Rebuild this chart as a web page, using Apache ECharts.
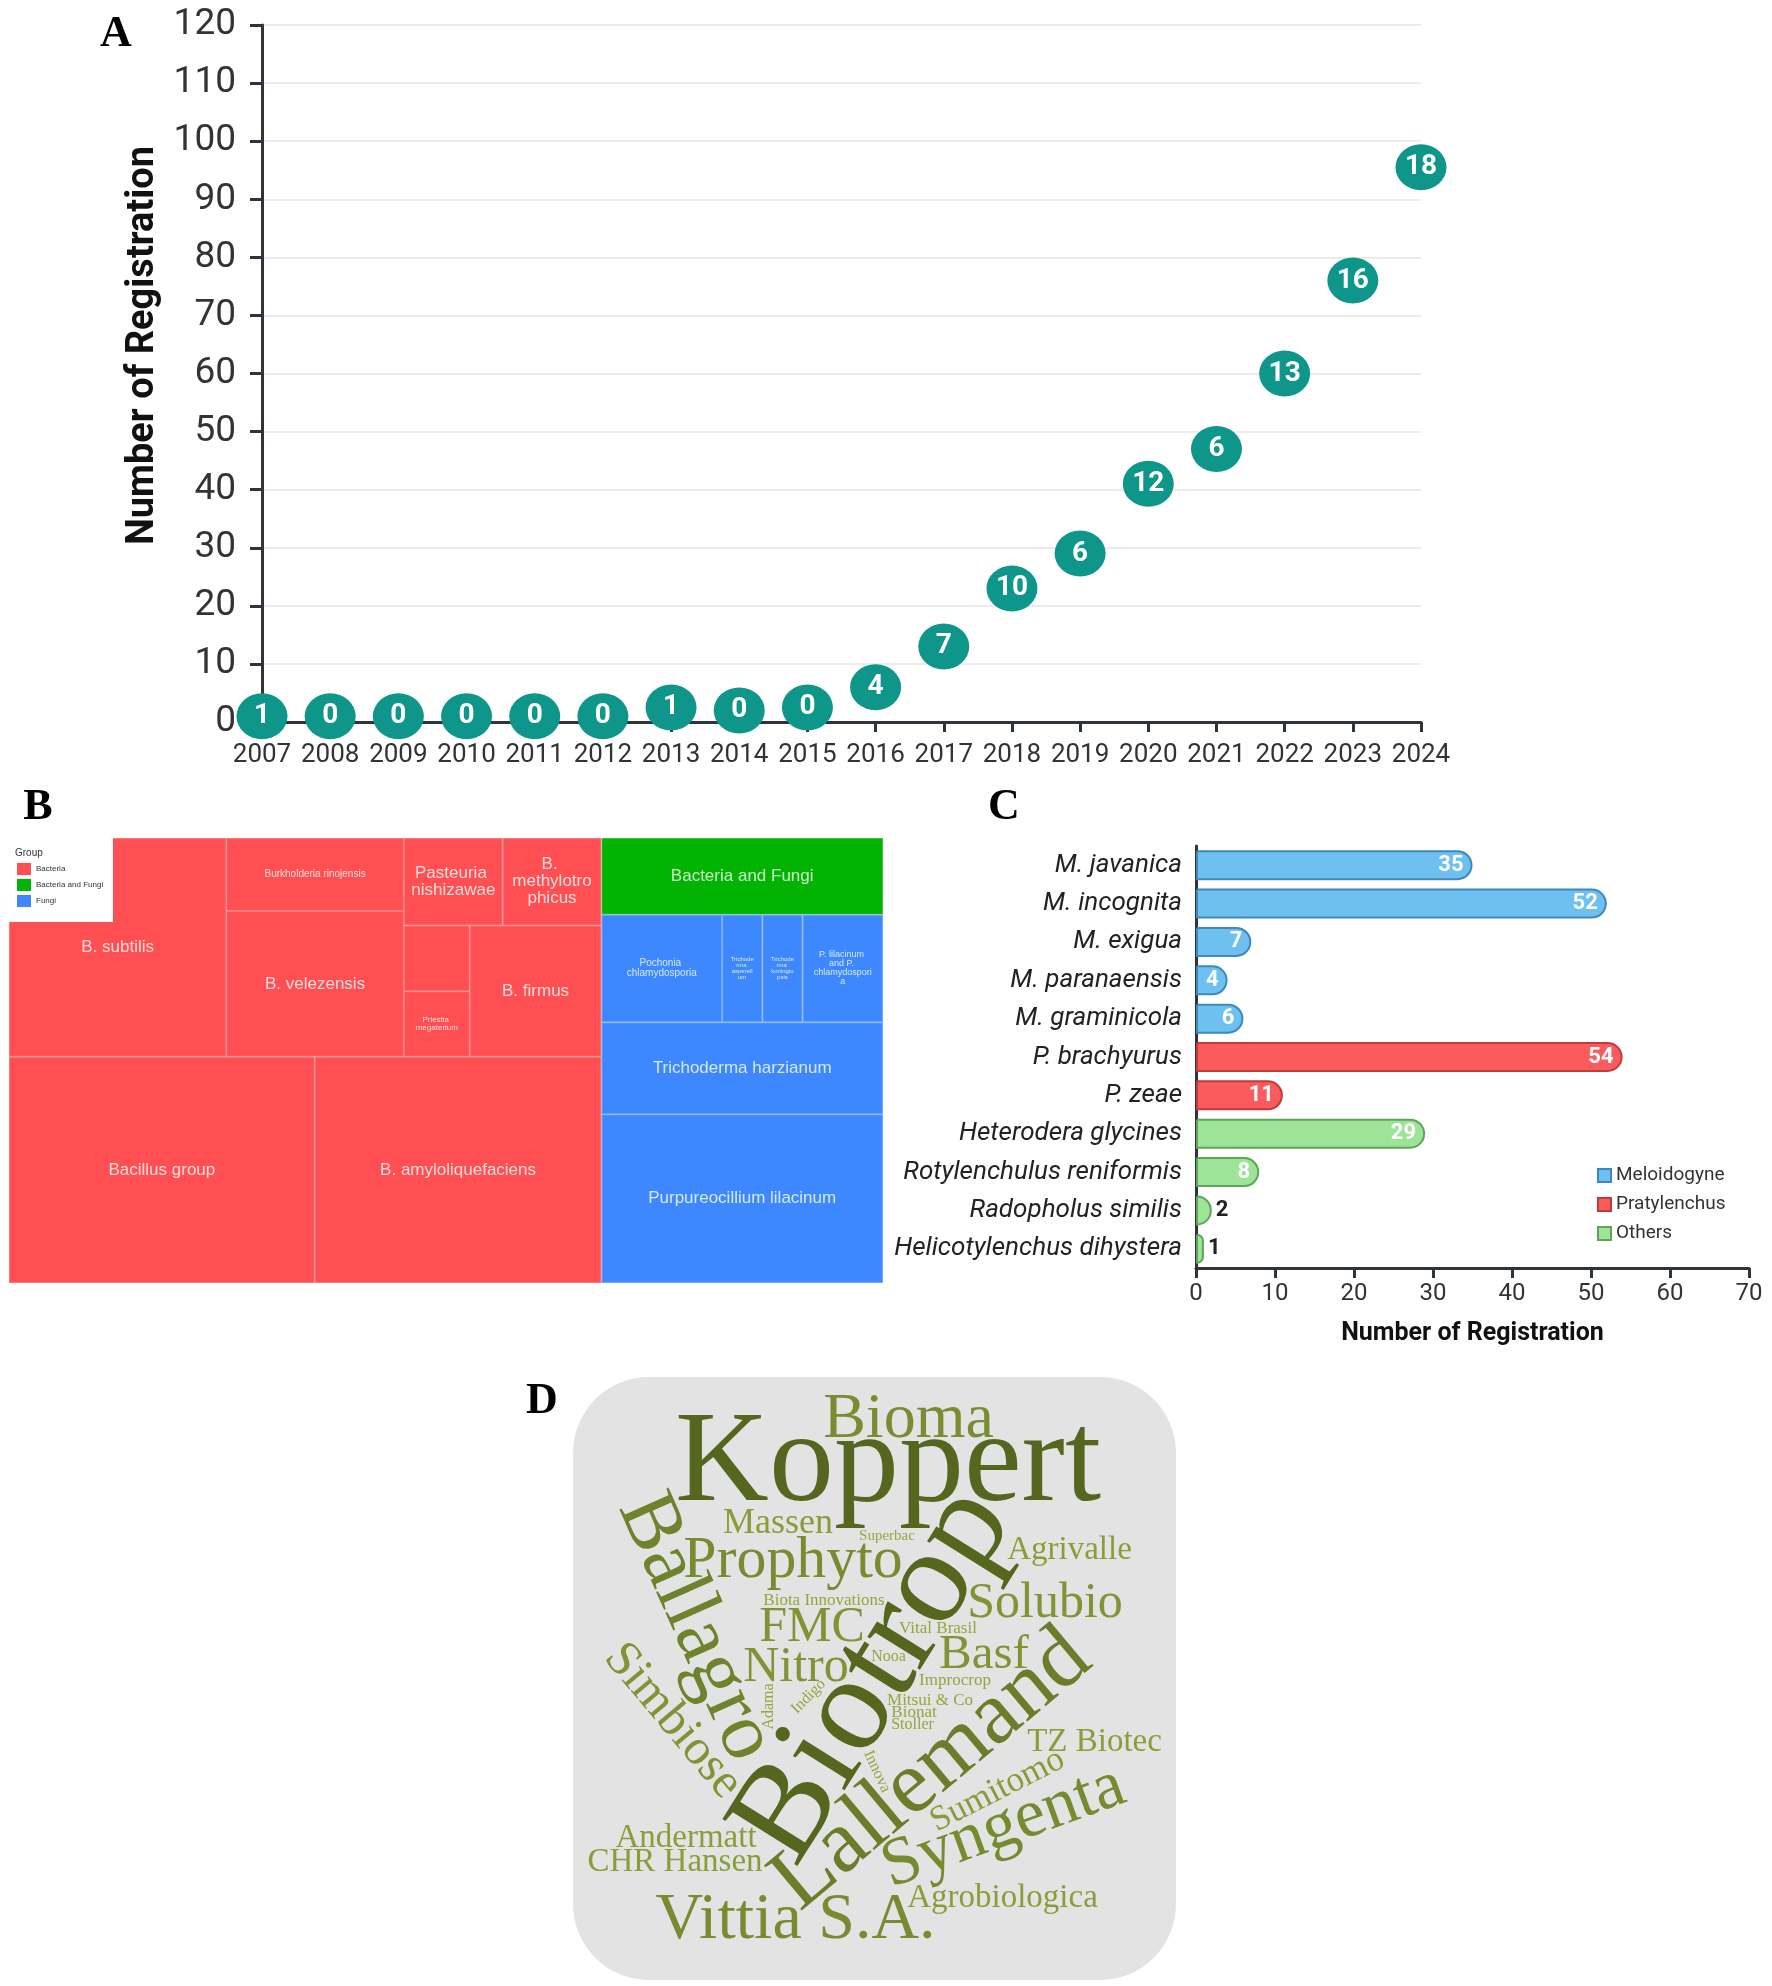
<!DOCTYPE html>
<html>
<head>
<meta charset="utf-8">
<script src="https://cdn.jsdelivr.net/npm/echarts@6/dist/echarts.min.js"></script>
<style>
  html, body { margin: 0; background: #fff; }
  #chart { width: 1772px; height: 1986px; }
</style>
</head>
<body>
<div id="chart"></div>
<script>
// ---- A: registrations per year (bubble text) and running total (bubble height)
const years = ['2007', '2008', '2009', '2010', '2011', '2012', '2013', '2014', '2015',
  '2016', '2017', '2018', '2019', '2020', '2021', '2022', '2023', '2024'];
const yearCount = [1, 0, 0, 0, 0, 0, 1, 0, 0, 4, 7, 10, 6, 12, 6, 13, 16, 18];
const yearTotal = [1, 1, 1, 1, 1, 1, 2.5, 2, 2.5, 6, 13, 23, 29, 41, 47, 60, 76, 95.5];

// ---- B: organisms (treemap)
const bacteriaUpper = ['B. subtilis', 'Burkholderia rinojensis', 'B. velezensis', 'Pasteuria nishizawae',
  'B. methylotrophicus', '', 'Priestia megaterium', 'B. firmus'];
const bacteriaUpperValues = [11, 3, 6, 2, 2, 1, 1, 4];
const bacteriaLower = ['Bacillus group', 'B. amyloliquefaciens'];
const bacteriaLowerValues = [16, 15];
const mixedValue = 5;
const fungi = ['Pochonia chlamydosporia', 'Trichoderma asperellum', 'Trichoderma koningiopsis',
  'P. lilacinum and P. chlamydosporia', 'Trichoderma harzianum', 'Purpureocillium lilacinum'];
const fungiValues = [3, 1, 1, 2, 6, 11];

// ---- C: target nematodes
const nematodes = ['M. javanica', 'M. incognita', 'M. exigua', 'M. paranaensis', 'M. graminicola',
  'P. brachyurus', 'P. zeae', 'Heterodera glycines', 'Rotylenchulus reniformis',
  'Radopholus similis', 'Helicotylenchus dihystera'];
const nematodeCounts = [35, 52, 7, 4, 6, 54, 11, 29, 8, 2, 1];
const nematodeGroup = ['Meloidogyne', 'Meloidogyne', 'Meloidogyne', 'Meloidogyne', 'Meloidogyne',
  'Pratylenchus', 'Pratylenchus', 'Others', 'Others', 'Others', 'Others'];
const groups = ['Meloidogyne', 'Pratylenchus', 'Others'];

// ---- D: companies (word cloud weights)
const companies = ['Biotrop', 'Koppert', 'Lallemand', 'Ballagro', 'Syngenta', 'Prophyto', 'Bioma',
  'Vittia S.A.', 'Solubio', 'FMC', 'Nitro', 'Basf', 'Simbiose', 'Massen', 'Sumitomo', 'TZ Biotec',
  'Agrivalle', 'Andermatt', 'Agrobiologica', 'CHR Hansen', 'Mitsui & Co', 'Bionat', 'Improcrop',
  'Vital Brasil', 'Biota Innovations', 'Stoller', 'Nooa', 'Indigo', 'Innova', 'Adama', 'Superbac'];
const companyWeight = [13.5, 13, 9, 8.2, 6.8, 6.5, 6.4, 6.6, 5, 5, 5, 4.9, 5, 3.6, 3.5, 3.3,
  3.3, 3.3, 3.3, 3.3, 1.7, 1.7, 1.7, 1.7, 1.7, 1.6, 1.6, 1.6, 1.6, 1.6, 1.5];

// ---- styles
const barColor = {
  Meloidogyne: ['#6dc0f0', '#3d88bd'],
  Pratylenchus: ['#fa5b5d', '#c23a3c'],
  Others: ['#9de398', '#5ea55a']
};
const treeColor = {
  Bacteria: ['#ff4f53', '#f87c7e'],
  'Bacteria and Fungi': ['#02b302', '#3cc43c'],
  Fungi: ['#3d88fe', '#74a9fd']
};
const treeLabelSize = {
  'Burkholderia rinojensis': 10, 'Priestia megaterium': 8, 'Pochonia chlamydosporia': 10,
  'Trichoderma asperellum': 6, 'Trichoderma koningiopsis': 6, 'P. lilacinum and P. chlamydosporia': 9
};
const wordAngle = {
  Biotrop: 58, Ballagro: -66, Lallemand: 40, Syngenta: 20, Simbiose: -50,
  Sumitomo: 27, Indigo: 45, Innova: -65, Adama: 90
};
const cloudBox = { x: 573, y: 1377, w: 603, h: 603, r: 76 };

function leaf(name, value, group) {
  return {
    name, value,
    itemStyle: { color: treeColor[group][0], borderColor: treeColor[group][1], borderWidth: 1 },
    label: { fontSize: treeLabelSize[name] || 17 }
  };
}
const treeData = [
  { name: 'Bacteria', itemStyle: { color: treeColor.Bacteria[0] }, children: [
    { name: 'Bacteria (a)', children: bacteriaUpper.map((n, i) => leaf(n, bacteriaUpperValues[i], 'Bacteria')) },
    { name: 'Bacteria (b)', children: bacteriaLower.map((n, i) => leaf(n, bacteriaLowerValues[i], 'Bacteria')) }
  ] },
  leaf('Bacteria and Fungi', mixedValue, 'Bacteria and Fungi'),
  { name: 'Fungi', itemStyle: { color: treeColor.Fungi[0] },
    children: fungi.map((n, i) => leaf(n, fungiValues[i], 'Fungi')) }
];

// word cloud: greedy spiral placement on a pixel mask
function wordColor(w) {
  const t = Math.min(1, Math.max(0, (w - 1.5) / 11.5));
  const a = [0x93, 0xa8, 0x3e], b = [0x55, 0x66, 0x1f];
  return 'rgb(' + a.map((v, k) => Math.round(v + (b[k] - v) * t)).join(',') + ')';
}
function layoutCloud(box) {
  const cell = 4;
  const gw = Math.floor(box.w / cell), gh = Math.floor(box.h / cell);
  const grid = new Uint8Array(gw * gh);
  const inset = 12;
  for (let gy = 0; gy < gh; gy++) {
    for (let gx = 0; gx < gw; gx++) {
      const px = gx * cell + cell / 2, py = gy * cell + cell / 2;
      const qx = Math.max(Math.abs(px - box.w / 2) - (box.w / 2 - box.r), 0);
      const qy = Math.max(Math.abs(py - box.h / 2) - (box.h / 2 - box.r), 0);
      if (Math.hypot(qx, qy) > box.r - inset) grid[gy * gw + gx] = 1;
    }
  }
  const cvs = document.createElement('canvas');
  const ctx = cvs.getContext('2d', { willReadFrequently: true });
  const order = companies.map((_, i) => i).sort((a, b) => companyWeight[b] - companyWeight[a] || a - b);
  const out = [];
  order.forEach(i => {
    const text = companies[i];
    const ang = (wordAngle[text] || 0) * Math.PI / 180;
    let size = companyWeight[i] * 10;
    for (let attempt = 0; attempt < 8; attempt++, size *= 0.92) {
      const font = size.toFixed(1) + 'px "Liberation Serif"';
      ctx.setTransform(1, 0, 0, 1, 0, 0);
      ctx.font = font;
      const tw = ctx.measureText(text).width, th = size * 1.15;
      const c = Math.abs(Math.cos(ang)), s = Math.abs(Math.sin(ang));
      const bw = Math.ceil(tw * c + th * s) + 4, bh = Math.ceil(tw * s + th * c) + 4;
      cvs.width = bw; cvs.height = bh;
      ctx.font = font; ctx.textAlign = 'center'; ctx.textBaseline = 'middle'; ctx.fillStyle = '#000';
      ctx.translate(bw / 2, bh / 2); ctx.rotate(-ang); ctx.fillText(text, 0, 0);
      const img = ctx.getImageData(0, 0, bw, bh).data;
      const cw = Math.ceil(bw / cell), ch = Math.ceil(bh / cell);
      const cells = [];
      for (let cy = 0; cy < ch; cy++) {
        for (let cx = 0; cx < cw; cx++) {
          let hit = false;
          for (let y = cy * cell; y < Math.min(bh, cy * cell + cell) && !hit; y++) {
            for (let x = cx * cell; x < Math.min(bw, cx * cell + cell); x++) {
              if (img[(y * bw + x) * 4 + 3] > 40) { hit = true; break; }
            }
          }
          if (hit) cells.push([cx, cy]);
        }
      }
      let spot = null;
      const rMax = Math.max(gw, gh) * 0.72;
      // spiral runs anticlockwise on screen, so the first free ring slot is searched above the centre
      for (let a = 0, r = 0; r < rMax && !spot; a += 1 / (r + 1)) {
        r = 0.32 * a;
        const ox = Math.round(gw / 2 + r * Math.cos(a) - cw / 2);
        const oy = Math.round(gh / 2 - r * Math.sin(a) - ch / 2);
        let ok = true;
        for (let k = 0; k < cells.length; k++) {
          const gx = ox + cells[k][0], gy = oy + cells[k][1];
          if (gx < 0 || gy < 0 || gx >= gw || gy >= gh || grid[gy * gw + gx]) { ok = false; break; }
        }
        if (ok) spot = [ox, oy];
      }
      if (spot) {
        cells.forEach(([cx, cy]) => { grid[(spot[1] + cy) * gw + spot[0] + cx] = 1; });
        out.push({
          type: 'text', z: 50,
          x: box.x + spot[0] * cell + bw / 2,
          y: box.y + spot[1] * cell + bh / 2,
          rotation: ang,
          style: {
            text, font, fill: wordColor(companyWeight[i]),
            align: 'center', verticalAlign: 'middle', textAlign: 'center', textVerticalAlign: 'middle'
          }
        });
        break;
      }
    }
  });
  return out;
}

const panelTag = (t, x, y) => ({
  type: 'text', x, y, z: 100,
  style: { text: t, font: 'bold 44px "Liberation Serif"', fill: '#000',
    align: 'center', verticalAlign: 'middle', textAlign: 'center', textVerticalAlign: 'middle' }
});

const legendItems = ['Bacteria', 'Bacteria and Fungi', 'Fungi'];
const treeLegend = [
  { type: 'rect', x: 9, y: 838, z: 100, shape: { width: 104, height: 84 }, style: { fill: '#fff' } },
  { type: 'text', x: 15, y: 853, z: 101, style: { text: 'Group', font: '10px "Liberation Sans"', fill: '#333',
    verticalAlign: 'middle', textVerticalAlign: 'middle' } }
].concat(...legendItems.map((g, k) => [
  { type: 'rect', x: 17, y: 863 + k * 16, z: 101, shape: { width: 14, height: 12 }, style: { fill: treeColor[g][0] } },
  { type: 'text', x: 36, y: 869 + k * 16, z: 101, style: { text: g, font: '8px "Liberation Sans"', fill: '#333',
    verticalAlign: 'middle', textVerticalAlign: 'middle' } }
]));

const axisDark = '#2f343a';

const option = {
  animation: false,
  backgroundColor: '#fff',
  grid: [
    { left: 262, top: 25, right: 351, bottom: 1264 },
    { left: 1196, top: 846, right: 23, bottom: 718 }
  ],
  xAxis: [
    {
      gridIndex: 0, type: 'category', data: years, boundaryGap: false,
      axisLine: { lineStyle: { color: axisDark, width: 3 } },
      axisTick: { show: true, length: 10, lineStyle: { color: axisDark, width: 3 } },
      axisLabel: { interval: 0, fontSize: 26, color: '#333', margin: 20, fontFamily: 'Roboto' },
      splitLine: { show: false }
    },
    {
      gridIndex: 1, type: 'value', min: 0, max: 70, interval: 10,
      axisLine: { show: true, lineStyle: { color: axisDark, width: 3 } },
      axisTick: { show: true, length: 10, lineStyle: { color: axisDark, width: 3 } },
      axisLabel: { fontSize: 24, color: '#333', margin: 14, fontFamily: 'Roboto' },
      splitLine: { show: false },
      name: 'Number of Registration', nameLocation: 'middle', nameGap: 53,
      nameTextStyle: { fontSize: 25, fontWeight: 'bold', color: '#111', fontFamily: 'Roboto' }
    }
  ],
  yAxis: [
    {
      gridIndex: 0, type: 'value', min: 0, max: 120, interval: 10,
      axisLine: { show: true, lineStyle: { color: axisDark, width: 3 } },
      axisTick: { show: true, length: 12, lineStyle: { color: axisDark, width: 3 } },
      axisLabel: { fontSize: 37, color: '#333', margin: 26, fontFamily: 'Roboto' },
      splitLine: { show: true, lineStyle: { color: '#ebebeb', width: 2 } },
      name: 'Number of Registration', nameLocation: 'middle', nameGap: 92,
      nameTextStyle: { fontSize: 38, fontWeight: 'bold', color: '#111', fontFamily: 'Roboto', padding: [0, 0, 0, 56] }
    },
    {
      gridIndex: 1, type: 'category', data: nematodes, inverse: true,
      axisLine: { show: true, lineStyle: { color: axisDark, width: 3 } },
      axisTick: { show: false },
      axisLabel: { fontSize: 26, fontStyle: 'italic', color: '#222', margin: 14, fontFamily: 'Roboto' },
      splitLine: { show: false }
    }
  ],
  legend: {
    data: groups, orient: 'vertical', left: 1592, top: 1161, itemGap: 10,
    itemWidth: 13, itemHeight: 13, icon: 'rect', selectedMode: false,
    textStyle: { fontSize: 19, color: '#333', fontFamily: 'Roboto' }
  },
  series: [
    {
      type: 'scatter', xAxisIndex: 0, yAxisIndex: 0, data: yearTotal, z: 5,
      symbol: 'circle', symbolSize: [51, 46],
      itemStyle: { color: '#0f968b', opacity: 1 },
      label: {
        show: true, position: 'inside', color: '#fff', fontSize: 28, fontWeight: 'bold', fontFamily: 'Roboto',
        formatter: p => String(yearCount[p.dataIndex])
      }
    },
    ...groups.map(g => ({
      name: g, type: 'bar', xAxisIndex: 1, yAxisIndex: 1, stack: 'nema', barWidth: 30,
      itemStyle: { color: barColor[g][0], borderColor: barColor[g][1], borderWidth: 2, borderRadius: [0, 15, 15, 0] },
      label: { show: true, position: 'insideRight', distance: 9, color: '#fff', fontSize: 22,
        fontWeight: 'bold', fontFamily: 'Roboto' },
      data: nematodeCounts.map((v, i) => nematodeGroup[i] !== g ? null
        : (v <= 2 ? { value: v, label: { position: 'right', distance: 4, color: '#222' } } : v))
    })),
    {
      type: 'treemap', left: 9, top: 838, width: 874, height: 445,
      roam: false, nodeClick: false, sort: false, squareRatio: 1.5,
      breadcrumb: { show: false },
      itemStyle: { borderWidth: 0, gapWidth: 0 },
      upperLabel: { show: false },
      label: { show: true, position: 'inside', color: 'rgba(255,255,255,0.8)', fontSize: 17,
        fontFamily: 'Liberation Sans', overflow: 'break' },
      data: treeData
    }
  ],
  graphic: [
    panelTag('A', 116, 35), panelTag('B', 38, 808), panelTag('C', 1004, 808), panelTag('D', 542, 1402),
    ...treeLegend,
    { type: 'rect', x: cloudBox.x, y: cloudBox.y, z: 40,
      shape: { width: cloudBox.w, height: cloudBox.h, r: cloudBox.r }, style: { fill: '#e3e3e3' } },
    ...layoutCloud(cloudBox)
  ]
};

const chart = echarts.init(document.getElementById('chart'));
chart.setOption(option);
</script>
</body>
</html>
